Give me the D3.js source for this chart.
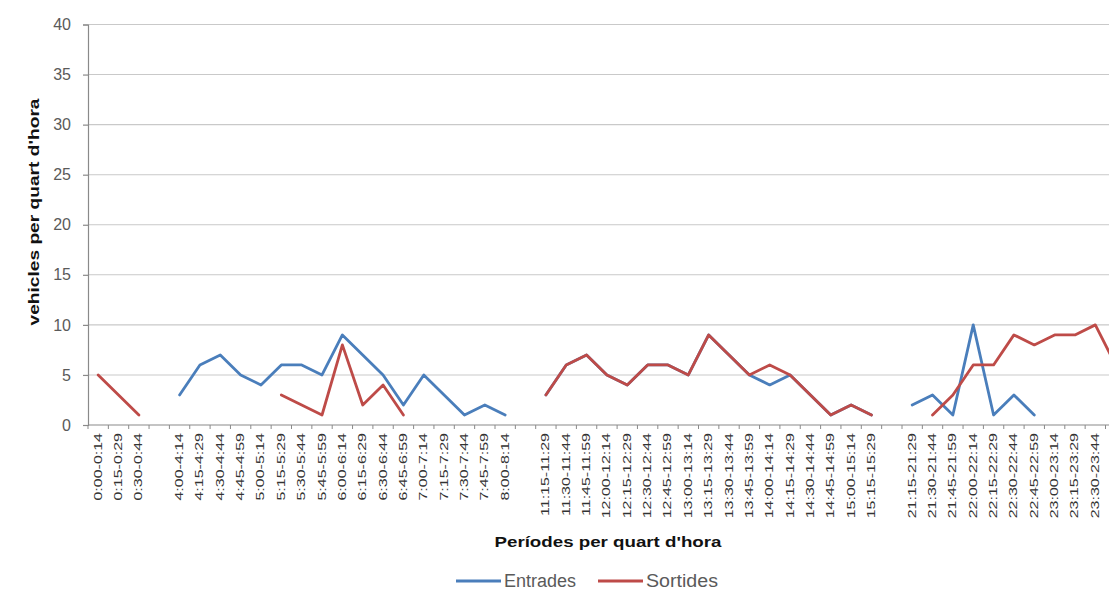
<!DOCTYPE html>
<html>
<head>
<meta charset="utf-8">
<script src="https://cdn.jsdelivr.net/npm/d3@7"></script>
<style>
  html, body { margin: 0; padding: 0; background: #fff; }
  svg { display: block; }
</style>
</head>
<body>
<svg id="chart" width="1109" height="590"></svg>
<script>
// Quarter-hour periods; empty strings are the breaks between recording sessions.
const periods = [
  "0:00-0:14", "0:15-0:29", "0:30-0:44", "",
  "4:00-4:14", "4:15-4:29", "4:30-4:44", "4:45-4:59", "5:00-5:14", "5:15-5:29",
  "5:30-5:44", "5:45-5:59", "6:00-6:14", "6:15-6:29", "6:30-6:44", "6:45-6:59",
  "7:00-7:14", "7:15-7:29", "7:30-7:44", "7:45-7:59", "8:00-8:14", "",
  "11:15-11:29", "11:30-11:44", "11:45-11:59", "12:00-12:14", "12:15-12:29",
  "12:30-12:44", "12:45-12:59", "13:00-13:14", "13:15-13:29", "13:30-13:44",
  "13:45-13:59", "14:00-14:14", "14:15-14:29", "14:30-14:44", "14:45-14:59",
  "15:00-15:14", "15:15-15:29", "",
  "21:15-21:29", "21:30-21:44", "21:45-21:59", "22:00-22:14", "22:15-22:29",
  "22:30-22:44", "22:45-22:59", "23:00-23:14", "23:15-23:29", "23:30-23:44",
  "23:45-23:59"
];

// Vehicles entering per quarter hour (null = no count).
const entrades = [
  null, null, null, null,
  3, 6, 7, 5, 4, 6, 6, 5, 9, 7, 5, 2, 5, 3, 1, 2, 1, null,
  3, 6, 7, 5, 4, 6, 6, 5, 9, 7, 5, 4, 5, 3, 1, 2, 1, null,
  2, 3, 1, 10, 1, 3, 1, null, null, null, null
];

// Vehicles leaving per quarter hour (null = no count).
const sortides = [
  5, 3, 1, null,
  null, null, null, null, null, 3, 2, 1, 8, 2, 4, 1, null, null, null, null, null, null,
  3, 6, 7, 5, 4, 6, 6, 5, 9, 7, 5, 6, 5, 3, 1, 2, 1, null,
  null, 1, 3, 6, 6, 9, 8, 9, 9, 10, 6
];

const yTicks = [0, 5, 10, 15, 20, 25, 30, 35, 40];
const seriesNames = ["Entrades", "Sortides"];
const seriesColors = ["#4A7EBB", "#BE4B48"];
const yTitle = "vehicles per quart d'hora";
const xTitle = "Períodes per quart d'hora";

const W = 1109, H = 590;
const svg = d3.select("#chart");
svg.append("rect").attr("width", W).attr("height", H).attr("fill", "#fff");

const plotLeft = 88, plotTop = 24.5, plotBottom = 425, step = 20.35;
const plotRight = plotLeft + step * periods.length;

const x = d3.scaleBand()
  .domain(d3.range(periods.length))
  .range([plotLeft, plotRight])
  .padding(0);
const y = d3.scaleLinear().domain([0, 40]).range([plotBottom, plotTop]);
const cx = i => x(i) + x.bandwidth() / 2;

// horizontal gridlines
svg.append("g")
  .selectAll("line")
  .data(yTicks.filter(t => t > 0))
  .join("line")
  .attr("x1", plotLeft).attr("x2", plotRight)
  .attr("y1", d => y(d)).attr("y2", d => y(d))
  .attr("stroke", "#c9c9c9").attr("stroke-width", 1.1);

// y axis
const yAxis = svg.append("g")
  .attr("transform", `translate(${plotLeft},0)`)
  .call(d3.axisLeft(y).tickValues(yTicks).tickSize(5).tickPadding(12));
yAxis.select(".domain").attr("stroke", "#8a8a8a").attr("stroke-width", 1.2);
yAxis.selectAll(".tick line").attr("stroke", "#8a8a8a").attr("stroke-width", 1.2);
yAxis.selectAll(".tick text")
  .attr("fill", "#5a5a5a")
  .style("font-family", "'Liberation Sans', Arial, sans-serif")
  .style("font-size", "16px");

// x axis line and tick marks between categories
const xAxis = svg.append("g");
xAxis.append("line")
  .attr("x1", plotLeft).attr("x2", plotRight)
  .attr("y1", y(0)).attr("y2", y(0))
  .attr("stroke", "#8a8a8a").attr("stroke-width", 1.2);
xAxis.selectAll("line.tick")
  .data(d3.range(periods.length + 1))
  .join("line")
  .attr("class", "tick")
  .attr("x1", i => plotLeft + i * x.step()).attr("x2", i => plotLeft + i * x.step())
  .attr("y1", y(0)).attr("y2", y(0) + 4)
  .attr("stroke", "#8a8a8a").attr("stroke-width", 1);

// rotated category labels (only those whose column fits in the view)
xAxis.selectAll("text")
  .data(periods.map((p, i) => ({ p, i })).filter(d => d.p !== "" && cx(d.i) + 5 < W))
  .join("text")
  .attr("transform", d => `translate(${cx(d.i)},${y(0) + 8}) rotate(-90) scale(1.6,1)`)
  .attr("text-anchor", "end")
  .attr("dy", "0.35em")
  .attr("fill", "#333")
  .style("font-family", "'Liberation Sans', Arial, sans-serif")
  .style("font-size", "10px")
  .text(d => d.p);

// series lines
const line = d3.line()
  .defined(d => d != null)
  .x((d, i) => cx(i))
  .y(d => y(d));

[entrades, sortides].forEach((vals, k) => {
  svg.append("path")
    .datum(vals)
    .attr("d", line)
    .attr("fill", "none")
    .attr("stroke", seriesColors[k])
    .attr("stroke-width", 2.8)
    .attr("stroke-linejoin", "round")
    .attr("stroke-linecap", "round");
});

// axis titles
svg.append("text")
  .attr("transform", "translate(39,212) rotate(-90)")
  .attr("text-anchor", "middle")
  .attr("textLength", 227).attr("lengthAdjust", "spacingAndGlyphs")
  .attr("fill", "#111")
  .style("font-family", "'Liberation Sans', Arial, sans-serif")
  .style("font-weight", "bold")
  .style("font-size", "15px")
  .text(yTitle);

svg.append("text")
  .attr("x", 608).attr("y", 547)
  .attr("text-anchor", "middle")
  .attr("textLength", 227).attr("lengthAdjust", "spacingAndGlyphs")
  .attr("fill", "#111")
  .style("font-family", "'Liberation Sans', Arial, sans-serif")
  .style("font-weight", "bold")
  .style("font-size", "15px")
  .text(xTitle);

// legend
const legend = svg.append("g").attr("transform", "translate(456,581)");
const item = legend.selectAll("g")
  .data(seriesNames)
  .join("g")
  .attr("transform", (d, i) => `translate(${i * 142},0)`);
item.append("line")
  .attr("x1", 0).attr("x2", 45).attr("y1", 0).attr("y2", 0)
  .attr("stroke", (d, i) => seriesColors[i])
  .attr("stroke-width", 3);
item.append("text")
  .attr("x", 48).attr("y", 6)
  .attr("textLength", 72).attr("lengthAdjust", "spacingAndGlyphs")
  .attr("fill", "#5a5a5a")
  .style("font-family", "'Liberation Sans', Arial, sans-serif")
  .style("font-size", "18px")
  .text(d => d);
</script>
</body>
</html>
